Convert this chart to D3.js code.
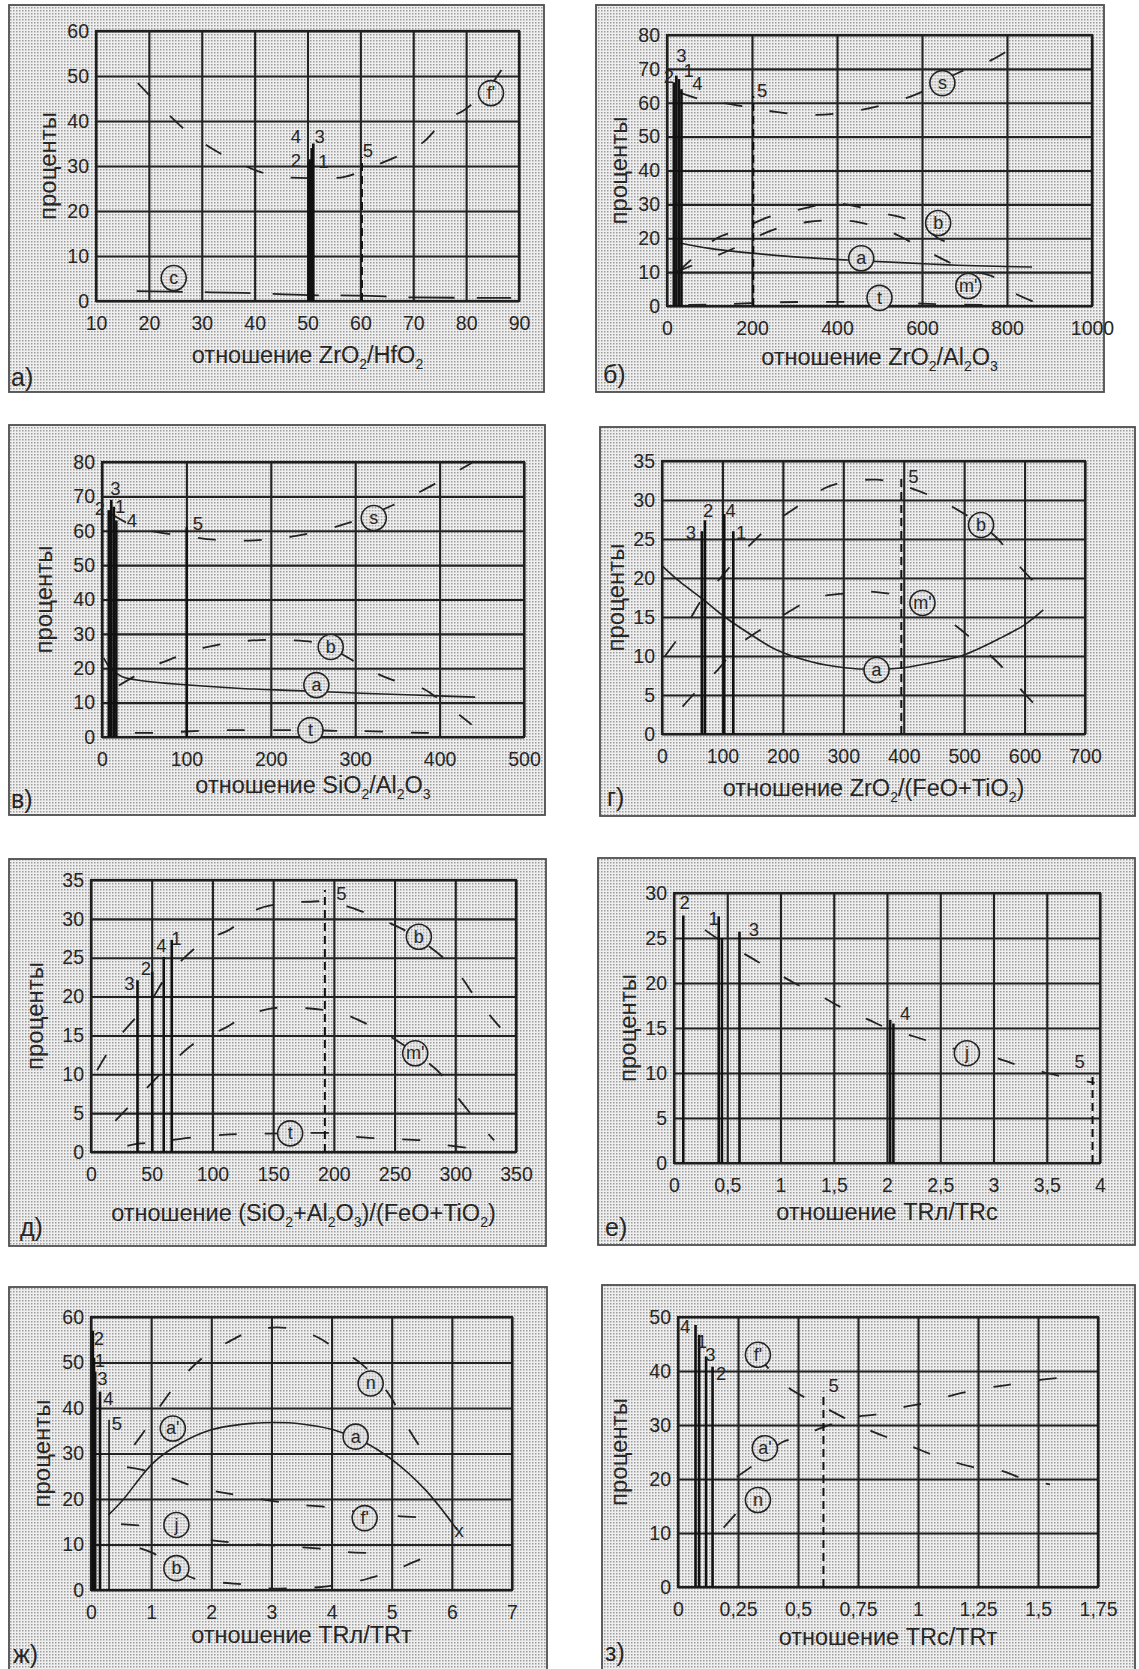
<!DOCTYPE html>
<html>
<head>
<meta charset="utf-8">
<script src="https://d3js.org/d3.v7.min.js"></script>
<style>
    body { margin: 0; background: #fff; }
    svg text { font-family: "Liberation Sans", Arial, sans-serif; fill: #262626; }
</style>
</head>
<body>
<div id="chart"></div>
<script>
// ---------- data ----------
// а) ZrO2/HfO2
var A_XTICKS = [10, 20, 30, 40, 50, 60, 70, 80, 90];
var A_YTICKS = [0, 10, 20, 30, 40, 50, 60];
var A_LINES = [{ x: 50.2, top: 31 }, { x: 50.5, top: 31.5 }, { x: 50.8, top: 34 }, { x: 51.1, top: 35 }, { x: 60.3, top: 32, dash: true }];
var A_NUMS = [{ t: "4", x: 47.8, y: 36.7 }, { t: "3", x: 52.3, y: 36.7 }, { t: "2", x: 47.8, y: 31.3 }, { t: "1", x: 53, y: 31 }, { t: "5", x: 61.4, y: 33.5 }];
var A_CURVES = [
    { kind: "long", pts: [[17.7, 2.2], [28, 2.0], [38, 1.8], [50, 1.3], [60, 1.2], [70, 0.8], [88.5, 0.7]] },
    { kind: "dash", pts: [[17.9, 48.4], [22.3, 43.1], [27.4, 37.5], [33.8, 32.6], [41, 28.7], [45, 27.6], [52, 27.3], [57, 27.6], [63, 30.2], [68.7, 33.1], [71.9, 35.3], [76, 40.2], [79.6, 42.4], [84, 47], [87.9, 53.6]] }
];
var A_MARKS = [{ t: "c", x: 24.7, y: 5.1 }, { t: "f'", x: 84.7, y: 46.2 }];

// б) ZrO2/Al2O3
var B_XTICKS = [0, 200, 400, 600, 800, 1000];
var B_YTICKS = [0, 10, 20, 30, 40, 50, 60, 70, 80];
var B_LINES = [{ x: 16, top: 66 }, { x: 22, top: 68 }, { x: 28, top: 67 }, { x: 34, top: 64 }, { x: 203, top: 62, dash: true }];
var B_NUMS = [{ t: "3", x: 34, y: 74 }, { t: "2", x: 4.6, y: 67.9 }, { t: "1", x: 51, y: 69.7 }, { t: "4", x: 71.7, y: 65.7 }, { t: "5", x: 224, y: 63.8 }];
var B_CURVES = [
    { kind: "dash", pts: [[30, 63], [80, 61], [139, 59.8], [200, 58.5], [256, 57.3], [345, 56.4], [457, 57.9], [583, 62.3], [688, 69], [763, 72.6], [852, 79.4]] },
    { kind: "dash", pts: [[25, 10], [60, 14], [117, 20], [168, 22.4], [240, 26.3], [306, 28.3], [373, 30.1], [417, 30.1], [507, 27.4], [555, 26], [600, 24], [638, 20], [676, 18]] },
    { kind: "dash", pts: [[20, 10], [100, 14], [166, 17.5], [248, 22.4], [331, 24.8], [440, 25], [532, 21.5], [600, 17], [667, 12.7], [708, 10.6], [770, 8.5], [800, 5], [864, 1.2]] },
    { kind: "solid", pts: [[29, 18.6], [100, 17], [199, 15.6], [300, 14.5], [424, 13.6], [550, 12.8], [650, 12.2], [750, 11.8], [859, 11.5]] },
    { kind: "dash", pts: [[50, 0.3], [130, 0.5], [230, 1], [330, 1.2], [440, 1.2], [550, 0.9], [650, 0.5], [760, 0.3]] }
];
var B_MARKS = [{ t: "s", x: 648, y: 65.8 }, { t: "b", x: 638, y: 24.5 }, { t: "a", x: 457, y: 14.1 }, { t: "m'", x: 709, y: 5.9 }, { t: "t", x: 500, y: 2.4 }];

// в) SiO2/Al2O3
var V_XTICKS = [0, 100, 200, 300, 400, 500];
var V_YTICKS = [0, 10, 20, 30, 40, 50, 60, 70, 80];
var V_LINES = [{ x: 8, top: 66 }, { x: 11, top: 69 }, { x: 14, top: 67 }, { x: 17, top: 63 }, { x: 100.4, top: 61 }];
var V_NUMS = [{ t: "2", x: -2.6, y: 66.5 }, { t: "3", x: 15.8, y: 72.3 }, { t: "1", x: 21.5, y: 67 }, { t: "4", x: 35.5, y: 63.1 }, { t: "5", x: 113.6, y: 62.2 }];
var V_CURVES = [
    { kind: "dash", pts: [[10, 65], [40, 61], [60, 59.8], [98, 58.5], [133, 57.4], [180, 57.2], [230, 58.5], [291, 62.2], [345, 67.5], [385, 72.4], [438, 79.7]] },
    { kind: "dash", pts: [[20, 15], [59, 20.4], [85, 23], [120, 25.9], [151, 27.4], [186, 28.2], [221, 28.2], [260, 27], [317, 19.5], [344, 16.6], [377, 14.5], [396, 11.6], [438, 3.6]] },
    { kind: "solid", pts: [[2, 23], [10, 20], [24, 17.5], [50, 16.3], [98, 15.2], [160, 14.2], [230, 13.5], [300, 12.8], [370, 12.2], [442, 11.6]] },
    { kind: "dash", pts: [[39, 1.2], [63, 1.2], [100, 1.6], [140, 2], [165, 2], [210, 2], [247, 2], [277, 1.8], [295, 1.8], [340, 1.5], [381, 1.2], [401, 1.2]] }
];
var V_MARKS = [{ t: "s", x: 322, y: 63.7 }, { t: "b", x: 271, y: 26.2 }, { t: "a", x: 254, y: 15.1 }, { t: "t", x: 247, y: 2 }];

// г) ZrO2/(FeO+TiO2)
var G_XTICKS = [0, 100, 200, 300, 400, 500, 600, 700];
var G_YTICKS = [0, 5, 10, 15, 20, 25, 30, 35];
var G_LINES = [{ x: 66, top: 26 }, { x: 71, top: 27.4 }, { x: 103, top: 28.2 }, { x: 118, top: 26 }, { x: 396, top: 33.2, dash: true }];
var G_NUMS = [{ t: "3", x: 48, y: 25.9 }, { t: "2", x: 76.3, y: 28.7 }, { t: "4", x: 113.5, y: 28.7 }, { t: "1", x: 131, y: 25.8 }, { t: "5", x: 416, y: 33 }];
var G_CURVES = [
    { kind: "dash", pts: [[5, 10], [34, 13.1], [69, 17.6], [90, 19.4], [122, 22.3], [154, 24.9], [184, 27], [223, 29.1], [269, 31.5], [302, 32.3], [355, 32.6], [384, 32.2], [443, 30.6], [481, 29.1], [528, 26.8], [556, 25], [587, 21.9], [617, 19.4]] },
    { kind: "dash", pts: [[34, 3.5], [69, 6.5], [92, 8.2], [127, 11.4], [180, 14.2], [219, 16.1], [251, 17.4], [300, 18], [355, 18.2], [431, 16.8], [484, 14], [530, 11], [564, 8.5], [587, 6.3], [620, 3.5]] },
    { kind: "solid", pts: [[1, 21.5], [30, 19.5], [69, 17.2], [104, 15], [150, 12.6], [189, 10.8], [250, 9.2], [302, 8.5], [350, 8.3], [400, 8.5], [450, 9.2], [498, 10.1], [560, 12.3], [600, 14], [631, 15.9]] }
];
var G_MARKS = [{ t: "b", x: 528, y: 26.8 }, { t: "m'", x: 431, y: 16.8 }, { t: "a", x: 355, y: 8.2 }];

// д) (SiO2+Al2O3)/(FeO+TiO2)
var D_XTICKS = [0, 50, 100, 150, 200, 250, 300, 350];
var D_YTICKS = [0, 5, 10, 15, 20, 25, 30, 35];
var D_LINES = [{ x: 38.3, top: 22.1 }, { x: 50.4, top: 23.2 }, { x: 59.9, top: 25.1 }, { x: 66.5, top: 27.3 }, { x: 192.6, top: 33.7, dash: true }];
var D_NUMS = [{ t: "3", x: 31.6, y: 21.7 }, { t: "2", x: 45.2, y: 23.6 }, { t: "4", x: 58, y: 26.6 }, { t: "1", x: 70.4, y: 27.5 }, { t: "5", x: 206.3, y: 33.3 }];
var D_CURVES = [
    { kind: "dash", pts: [[5, 10.5], [18, 13.8], [41, 18], [50, 19.6], [60, 22.1], [77, 25], [95, 27.3], [114, 28.6], [135, 31.1], [159, 32], [179, 32.2], [196, 32.2], [224, 30.9], [244, 29.6], [262, 28.2], [290, 25], [305, 22.5], [316, 20], [337, 16]] },
    { kind: "dash", pts: [[20, 4], [39, 7.1], [50, 8.9], [70, 12], [89, 14.4], [111, 16], [126, 17.4], [150, 18.5], [178, 18.5], [205, 17.9], [220, 17], [245, 15], [267, 12.7], [287, 10.2], [297, 8], [315, 4.5], [332, 1.5]] },
    { kind: "dash", pts: [[30, 0.8], [41, 1.1], [53, 1.2], [74, 1.7], [108, 2.2], [120, 2.3], [164, 2.4], [202, 2.4], [215, 2], [244, 1.7], [272, 1.5], [287, 1], [313, 0.5]] }
];
var D_MARKS = [{ t: "b", x: 270, y: 27.7 }, { t: "m'", x: 267, y: 12.7 }, { t: "t", x: 164, y: 2.4 }];

// е) TRл/TRс
var E_XTICKS = [0, 0.5, 1, 1.5, 2, 2.5, 3, 3.5, 4];
var E_YTICKS = [0, 5, 10, 15, 20, 25, 30];
var E_LINES = [{ x: 0.087, top: 27.5 }, { x: 0.42, top: 27.4 }, { x: 0.45, top: 25 }, { x: 0.615, top: 25.7 }, { x: 2.03, top: 15.9 }, { x: 2.06, top: 15.5 }, { x: 3.93, top: 10, dash: true }];
var E_NUMS = [{ t: "2", x: 0.1, y: 29 }, { t: "1", x: 0.373, y: 27.2 }, { t: "3", x: 0.75, y: 26 }, { t: "4", x: 2.17, y: 16.6 }, { t: "5", x: 3.81, y: 11.3 }];
var E_CURVES = [
    { kind: "dash", pts: [[0.29, 25.9], [0.4, 25], [0.71, 22.9], [0.88, 21.7], [1.13, 20], [1.4, 18.4], [1.57, 17.3], [1.83, 15.9], [1.98, 15.1], [2.27, 14], [2.6, 12.8], [3.02, 11.7], [3.22, 10.9], [3.5, 10], [3.82, 9.2], [3.95, 8.9]] }
];
var E_MARKS = [{ t: "j", x: 2.75, y: 12.2 }];

// ж) TRл/TRт
var ZH_XTICKS = [0, 1, 2, 3, 4, 5, 6, 7];
var ZH_YTICKS = [0, 10, 20, 30, 40, 50, 60];
var ZH_LINES = [{ x: 0.03, top: 57 }, { x: 0.05, top: 51 }, { x: 0.07, top: 48 }, { x: 0.15, top: 43.6 }, { x: 0.3, top: 37.4, thin: true }];
var ZH_NUMS = [{ t: "2", x: 0.13, y: 55.3 }, { t: "1", x: 0.15, y: 50.5 }, { t: "3", x: 0.19, y: 46.5 }, { t: "4", x: 0.29, y: 42.1 }, { t: "5", x: 0.43, y: 36.6 }, { t: "x", x: 6.12, y: 13.2 }];
var ZH_CURVES = [
    { kind: "solid", pts: [[0.29, 16.5], [0.53, 19.8], [1.03, 27.9], [1.5, 32.3], [2, 35.2], [2.5, 36.4], [3.02, 36.8], [3.5, 36.5], [4.03, 35.2], [4.5, 32.8], [5.01, 28.6], [5.56, 22], [6.09, 13.2]] },
    { kind: "dash", pts: [[0.72, 31.9], [0.9, 35.2], [1.18, 41], [1.55, 47.2], [1.95, 52], [2.25, 54.3], [2.71, 57.1], [3.26, 57.6], [3.76, 55.6], [4.03, 53.4], [4.45, 50.2], [4.9, 44], [5.3, 35], [5.63, 28.1]] },
    { kind: "dash", pts: [[0.6, 27], [1.0, 26], [1.33, 24.6], [1.64, 23.1], [2.14, 21.5], [2.43, 20.9], [3, 19.6], [3.5, 18.7], [4.09, 18], [4.55, 16.8], [5.0, 16.3], [5.45, 16], [5.75, 15.8]] },
    { kind: "dash", pts: [[0.5, 14.5], [1.0, 14], [1.42, 13.5], [1.82, 11.4], [2.5, 10.3], [3.35, 9.5], [4.07, 8.8], [4.22, 8.4], [4.9, 8.1]] },
    { kind: "dash", pts: [[0.81, 9.2], [1.03, 8.1], [1.42, 5.2], [1.64, 2.9], [2.06, 1.8], [2.62, 1.1], [2.93, 0.4], [3.43, 0.4], [3.85, 0.7], [4.4, 1.8], [4.71, 2.9], [5.0, 4], [5.32, 5.9], [5.73, 8.1]] }
];
var ZH_MARKS = [{ t: "a'", x: 1.36, y: 35.5 }, { t: "n", x: 4.65, y: 45.4 }, { t: "a", x: 4.4, y: 33.7 }, { t: "j", x: 1.42, y: 14.3 }, { t: "f'", x: 4.55, y: 15.8 }, { t: "b", x: 1.42, y: 4.8 }];

// з) TRс/TRт
var Z_XTICKS = [0, 0.25, 0.5, 0.75, 1, 1.25, 1.5, 1.75];
var Z_YTICKS = [0, 10, 20, 30, 40, 50];
var Z_LINES = [{ x: 0.073, top: 48.5 }, { x: 0.088, top: 46.7 }, { x: 0.117, top: 42.7 }, { x: 0.144, top: 40.8 }, { x: 0.606, top: 36.2, dash: true }];
var Z_NUMS = [{ t: "4", x: 0.03, y: 48.2 }, { t: "1", x: 0.1, y: 45.5 }, { t: "3", x: 0.135, y: 43 }, { t: "2", x: 0.18, y: 39.6 }, { t: "5", x: 0.649, y: 37.4 }];
var Z_CURVES = [
    { kind: "dash", pts: [[0.33, 43], [0.445, 37.4], [0.6, 33.5], [0.8, 29], [0.94, 26.6], [1.085, 24.1], [1.23, 22.2], [1.35, 21.5], [1.43, 20.2], [1.55, 19]] },
    { kind: "dash", pts: [[0.245, 20.4], [0.303, 22.2], [0.438, 26.9], [0.497, 27.6], [0.6, 29.5], [0.74, 31.5], [0.82, 31.9], [0.94, 33.3], [1.03, 34.1], [1.15, 35.6], [1.29, 36.9], [1.37, 37.4], [1.5, 38.3], [1.58, 38.7]] },
    { kind: "dash", pts: [[0.19, 11], [0.3, 16.5]] }
];
var Z_MARKS = [{ t: "f'", x: 0.333, y: 43 }, { t: "a'", x: 0.362, y: 25.7 }, { t: "n", x: 0.333, y: 16.1 }];

// axis titles: [text, isSubscript]
var A_TITLE = [["отношение ZrO", 0], ["2", 1], ["/HfO", 0], ["2", 1]];
var B_TITLE = [["отношение ZrO", 0], ["2", 1], ["/Al", 0], ["2", 1], ["O", 0], ["3", 1]];
var V_TITLE = [["отношение SiO", 0], ["2", 1], ["/Al", 0], ["2", 1], ["O", 0], ["3", 1]];
var G_TITLE = [["отношение ZrO", 0], ["2", 1], ["/(FeO+TiO", 0], ["2", 1], [")", 0]];
var D_TITLE = [["отношение (SiO", 0], ["2", 1], ["+Al", 0], ["2", 1], ["O", 0], ["3", 1], [")/(FeO+TiO", 0], ["2", 1], [")", 0]];
var E_TITLE = [["отношение TRл/TRс", 0]];
var ZH_TITLE = [["отношение TRл/TRт", 0]];
var Z_TITLE = [["отношение TRс/TRт", 0]];

// ---------- layout ----------
var panels = [
    { letter: "а)", frame: [9, 5, 544, 392], plot: [96, 31, 519, 301], titleDy: 62, yTitleX: 48, letterPos: [11, 386], xt: A_XTICKS, yt: A_YTICKS, lines: A_LINES, nums: A_NUMS, curves: A_CURVES, marks: A_MARKS, title: A_TITLE },
    { letter: "б)", frame: [596, 5, 1104, 392], plot: [667, 35, 1092, 306], titleDy: 59, yTitleX: 619, letterPos: [603, 383], xt: B_XTICKS, yt: B_YTICKS, lines: B_LINES, nums: B_NUMS, curves: B_CURVES, marks: B_MARKS, title: B_TITLE },
    { letter: "в)", frame: [9, 425, 545, 815], plot: [102, 462, 524, 737], titleDy: 56, yTitleX: 44, letterPos: [11, 808], xt: V_XTICKS, yt: V_YTICKS, lines: V_LINES, nums: V_NUMS, curves: V_CURVES, marks: V_MARKS, title: V_TITLE },
    { letter: "г)", frame: [600, 427, 1135, 816], plot: [662, 461, 1085, 734], titleDy: 62, yTitleX: 616, letterPos: [607, 806], xt: G_XTICKS, yt: G_YTICKS, lines: G_LINES, nums: G_NUMS, curves: G_CURVES, marks: G_MARKS, title: G_TITLE },
    { letter: "д)", frame: [9, 859, 546, 1246], plot: [91, 880, 516, 1152], titleDy: 69, yTitleX: 35, letterPos: [20, 1236], xt: D_XTICKS, yt: D_YTICKS, lines: D_LINES, nums: D_NUMS, curves: D_CURVES, marks: D_MARKS, title: D_TITLE },
    { letter: "е)", frame: [598, 858, 1135, 1245], plot: [674, 893, 1100, 1163], titleDy: 57, yTitleX: 628, letterPos: [605, 1236], xt: E_XTICKS, yt: E_YTICKS, lines: E_LINES, nums: E_NUMS, curves: E_CURVES, marks: E_MARKS, title: E_TITLE },
    { letter: "ж)", frame: [9, 1287, 547, 1680], plot: [91, 1317, 512, 1590], titleDy: 53, yTitleX: 42, letterPos: [13, 1663], xt: ZH_XTICKS, yt: ZH_YTICKS, lines: ZH_LINES, nums: ZH_NUMS, curves: ZH_CURVES, marks: ZH_MARKS, title: ZH_TITLE },
    { letter: "з)", frame: [602, 1285, 1135, 1680], plot: [678, 1317, 1098, 1587], titleDy: 58, yTitleX: 619, letterPos: [605, 1661], xt: Z_XTICKS, yt: Z_YTICKS, lines: Z_LINES, nums: Z_NUMS, curves: Z_CURVES, marks: Z_MARKS, title: Z_TITLE }
];

var svg = d3.select("#chart").append("svg")
    .attr("width", 1139)
    .attr("height", 1669);

// halftone texture of the scan
var pat = svg.append("defs").append("pattern")
    .attr("id", "ht").attr("width", 3).attr("height", 3)
    .attr("patternUnits", "userSpaceOnUse");
pat.append("rect").attr("width", 3).attr("height", 3).attr("fill", "#efefef");
pat.append("rect").attr("x", 1).attr("y", 1).attr("width", 1.5).attr("height", 1.5).attr("fill", "#9c9c9c");

var fmt = function (d) { return String(d).replace(".", ","); };
var dashes = { dash: "18,28", long: "46,22", solid: null };

panels.forEach(function (P) {
    var g = svg.append("g");
    var f = P.frame, p = P.plot;

    g.append("rect")
        .attr("x", f[0]).attr("y", f[1])
        .attr("width", f[2] - f[0]).attr("height", f[3] - f[1])
        .attr("fill", "url(#ht)")
        .attr("stroke", "#4e4e4e").attr("stroke-width", 1.8);

    var x = d3.scaleLinear().domain([P.xt[0], P.xt[P.xt.length - 1]]).range([p[0], p[2]]);
    var y = d3.scaleLinear().domain([P.yt[0], P.yt[P.yt.length - 1]]).range([p[3], p[1]]);

    // grid + tick labels
    var ax = g.append("g")
        .attr("transform", "translate(0," + p[3] + ")")
        .call(d3.axisBottom(x).tickValues(P.xt).tickFormat(fmt).tickSize(-(p[3] - p[1])).tickPadding(15));
    var ay = g.append("g")
        .attr("transform", "translate(" + p[0] + ",0)")
        .call(d3.axisLeft(y).tickValues(P.yt).tickFormat(fmt).tickSize(-(p[2] - p[0])).tickPadding(7));
    [ax, ay].forEach(function (a) {
        a.select(".domain").remove();
        a.attr("font-family", null).attr("font-size", null);
        a.selectAll(".tick line").attr("stroke", "#222").attr("stroke-width", 2.1);
        a.selectAll(".tick text").attr("font-size", 19.5).attr("fill", "#2b2b2b");
    });

    g.append("rect")
        .attr("x", p[0]).attr("y", p[1])
        .attr("width", p[2] - p[0]).attr("height", p[3] - p[1])
        .attr("fill", "none").attr("stroke", "#1e1e1e").attr("stroke-width", 2.2);

    // curves
    var line = d3.line()
        .x(function (d) { return x(d[0]); })
        .y(function (d) { return y(d[1]); })
        .curve(d3.curveCatmullRom.alpha(0.5));
    g.selectAll(".curve").data(P.curves).join("path")
        .attr("class", "curve")
        .attr("fill", "none")
        .attr("stroke", "#222")
        .attr("stroke-width", function (d) { return d.kind == "solid" ? 1.6 : 1.8; })
        .attr("stroke-dasharray", function (d) { return dashes[d.kind]; })
        .attr("d", function (d) { return line(d.pts); });

    // vertical lines 1-5
    g.selectAll(".vl").data(P.lines).join("line")
        .attr("class", "vl")
        .attr("x1", function (d) { return x(d.x); })
        .attr("x2", function (d) { return x(d.x); })
        .attr("y1", y(0))
        .attr("y2", function (d) { return y(d.top); })
        .attr("stroke", "#111")
        .attr("stroke-width", function (d) { return d.dash ? 2 : (d.thin ? 1.6 : 2.6); })
        .attr("stroke-dasharray", function (d) { return d.dash ? "8,5" : null; });

    g.selectAll(".num").data(P.nums).join("text")
        .attr("class", "num")
        .attr("x", function (d) { return x(d.x); })
        .attr("y", function (d) { return y(d.y); })
        .attr("dy", "0.36em")
        .attr("text-anchor", "middle")
        .attr("font-size", 18.5)
        .text(function (d) { return d.t; });

    // circled curve names
    var mk = g.selectAll(".mark").data(P.marks).join("g")
        .attr("class", "mark")
        .attr("transform", function (d) { return "translate(" + x(d.x) + "," + y(d.y) + ")"; });
    mk.append("circle").attr("r", 12.5)
        .attr("fill", "url(#ht)").attr("stroke", "#222").attr("stroke-width", 1.6);
    mk.append("text")
        .attr("text-anchor", "middle").attr("dy", "0.33em")
        .attr("font-size", 18)
        .text(function (d) { return d.t; });

    // x title with subscripts
    var tt = g.append("text")
        .attr("x", (p[0] + p[2]) / 2)
        .attr("y", p[3] + P.titleDy)
        .attr("text-anchor", "middle")
        .attr("font-size", 23.5);
    var shift = 0;
    P.title.forEach(function (s) {
        var want = s[1] ? 6 : 0;
        tt.append("tspan")
            .attr("dy", want - shift)
            .attr("font-size", s[1] ? 14 : 23.5)
            .text(s[0]);
        shift = want;
    });

    g.append("text")
        .attr("transform", "translate(" + P.yTitleX + "," + (p[1] + p[3]) / 2 + ") rotate(-90)")
        .attr("text-anchor", "middle")
        .attr("dy", "0.35em")
        .attr("font-size", 24)
        .text("проценты");

    g.append("text")
        .attr("x", P.letterPos[0]).attr("y", P.letterPos[1])
        .attr("font-family", "'Liberation Serif', serif")
        .attr("font-size", 25)
        .text(P.letter);
});
</script>
</body>
</html>
